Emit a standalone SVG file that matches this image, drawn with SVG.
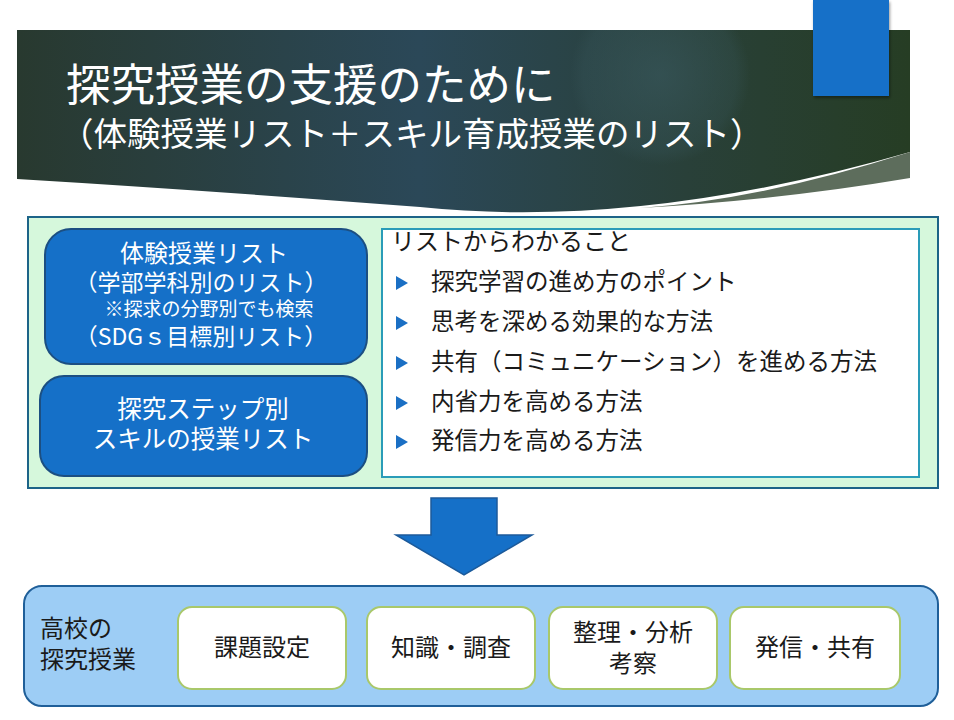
<svg xmlns="http://www.w3.org/2000/svg" width="954" height="720" viewBox="0 0 954 720">
<defs>
<linearGradient id="bannerGrad" x1="0" y1="0" x2="1" y2="0">
<stop offset="0" stop-color="#28392f"/>
<stop offset="0.45" stop-color="#2b4858"/>
<stop offset="0.75" stop-color="#294039"/>
<stop offset="1" stop-color="#263d24"/>
</linearGradient>
<radialGradient id="glow" cx="660" cy="75" r="90" gradientUnits="userSpaceOnUse">
<stop offset="0" stop-color="#3a5a60" stop-opacity="0.6"/>
<stop offset="0.85" stop-color="#3a5a60" stop-opacity="0.25"/>
<stop offset="1" stop-color="#3a5a60" stop-opacity="0"/>
</radialGradient>
<filter id="shadow" x="-20%" y="-20%" width="140%" height="140%">
<feDropShadow dx="1" dy="2" stdDeviation="1.5" flood-color="#000" flood-opacity="0.4"/>
</filter>
</defs>
<style>
text { font-family: "Noto Sans CJK JP", "Noto Sans", sans-serif; }
.title { fill: #ffffff; }
.wt { fill: #ffffff; text-anchor: middle; }
.bk { fill: #1a1a1a; }
.bc { fill: #1a1a1a; font-size: 24px; text-anchor: middle; }
.bluebox { fill: #1570c8; stroke: #1c4f82; stroke-width: 2; }
.step { fill: #ffffff; stroke: #a9c86a; stroke-width: 2; }
.bullet { fill: #1a6fc4; }
</style>

<g id="banner">
<path d="M17 30 H910 V152 Q640 230 420 207 Q200 190 17 179 Z" fill="url(#bannerGrad)"/>
<path d="M17 30 H910 V152 Q640 230 420 207 Q200 190 17 179 Z" fill="url(#glow)"/>
<path d="M910 152 Q760 200 640 208 Q780 200 910 178 Z" fill="#5d6d5c"/>
<rect x="813" y="0" width="76" height="96" fill="#1570c8" filter="url(#shadow)"/>
<text class="title" x="66" y="101" style="font-size:44.5px">探究授業の支援のために</text>
<text class="title" x="60" y="146" style="font-size:33.5px">（体験授業リスト＋スキル育成授業のリスト）</text>
</g>

<g id="panel">
<rect x="28" y="217" width="910" height="271" fill="#d6f8dc" stroke="#1d6488" stroke-width="2"/>
</g>

<g id="list1">
<rect class="bluebox" x="45" y="229" width="322" height="135" rx="26"/>
<text class="wt" x="204" y="262" style="font-size:24px">体験授業リスト</text>
<text class="wt" x="201" y="291" style="font-size:23px">（学部学科別のリスト）</text>
<text class="wt" x="209" y="316" style="font-size:19px">※探求の分野別でも検索</text>
<text class="wt" x="201" y="345" style="font-size:23px">（SDGｓ目標別リスト）</text>
</g>

<g id="list2">
<rect class="bluebox" x="40" y="376" width="327" height="100" rx="24"/>
<text class="wt" x="203" y="418" style="font-size:24.5px">探究ステップ別</text>
<text class="wt" x="203" y="448" style="font-size:24.5px">スキルの授業リスト</text>
</g>

<g id="points">
<rect x="382" y="229" width="537" height="248" fill="#ffffff" stroke="#2a9cb8" stroke-width="2"/>
<text class="bk" x="391" y="250" style="font-size:24px">リストからわかること</text>
<polygon class="bullet" points="396,276 408,283 396,290"/>
<text class="bk" x="431" y="290" style="font-size:23.5px">探究学習の進め方のポイント</text>
<polygon class="bullet" points="396,316 408,323 396,330"/>
<text class="bk" x="431" y="330" style="font-size:23.5px">思考を深める効果的な方法</text>
<polygon class="bullet" points="396,356 408,363 396,370"/>
<text class="bk" x="431" y="370" style="font-size:23.5px">共有（コミュニケーション）を進める方法</text>
<polygon class="bullet" points="396,396 408,403 396,410"/>
<text class="bk" x="431" y="410" style="font-size:23.5px">内省力を高める方法</text>
<polygon class="bullet" points="396,435 408,442 396,449"/>
<text class="bk" x="431" y="449" style="font-size:23.5px">発信力を高める方法</text>
</g>

<g id="connectors">
<polygon points="431,498 497,498 497,535 532,535 464,575 396,535 431,535" fill="#1570c8" stroke="#1c5a9a" stroke-width="1.5"/>
</g>

<g id="school">
<rect x="24" y="586" width="914" height="120" rx="18" fill="#9dcdf5" stroke="#1f5f99" stroke-width="2"/>
<text class="bk" x="40" y="637" style="font-size:24px">高校の</text>
<text class="bk" x="40" y="668" style="font-size:24px">探究授業</text>
</g>

<g id="step1">
<rect class="step" x="178" y="607" width="168" height="82" rx="14"/>
<text class="bc" x="262" y="656">課題設定</text>
</g>
<g id="step2">
<rect class="step" x="367" y="607" width="168" height="82" rx="14"/>
<text class="bc" x="451" y="656">知識・調査</text>
</g>
<g id="step3">
<rect class="step" x="549" y="607" width="168" height="82" rx="14"/>
<text class="bc" x="633" y="641">整理・分析</text>
<text class="bc" x="633" y="672">考察</text>
</g>
<g id="step4">
<rect class="step" x="730" y="607" width="170" height="82" rx="14"/>
<text class="bc" x="815" y="656">発信・共有</text>
</g>
</svg>
